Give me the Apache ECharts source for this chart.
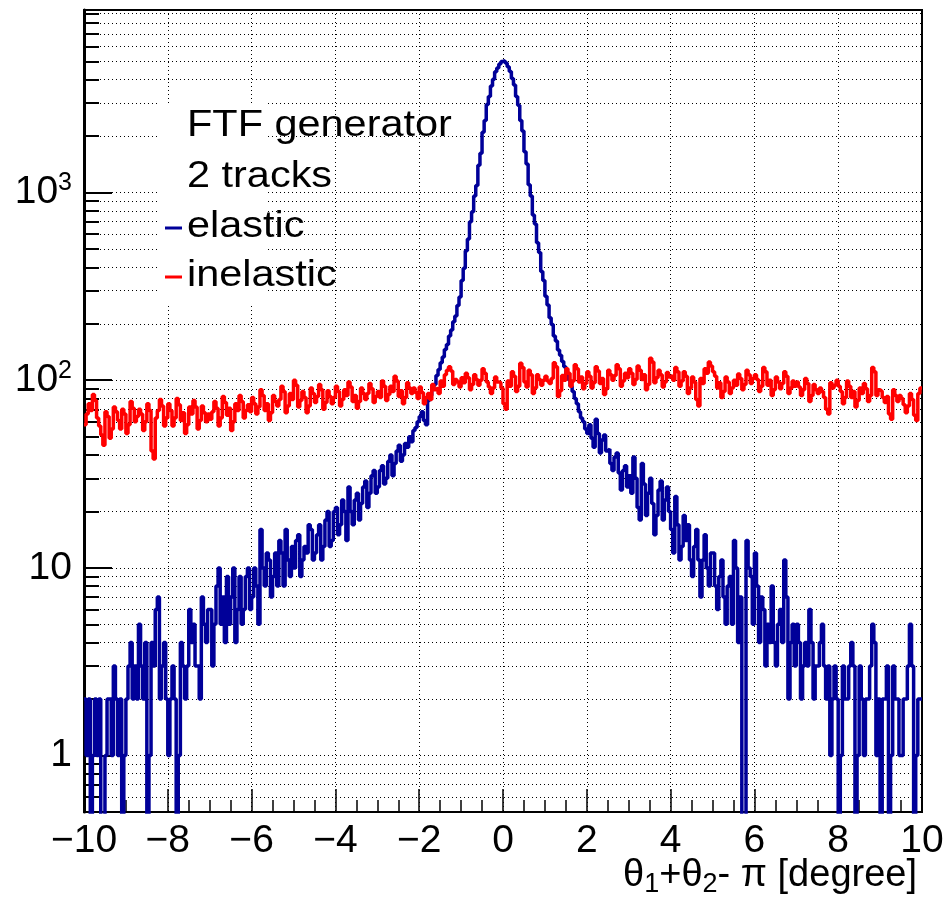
<!DOCTYPE html>
<html><head><meta charset="utf-8">
<script src="https://cdn.jsdelivr.net/npm/echarts@6/dist/echarts.min.js"></script>
<style>html,body{margin:0;padding:0;background:#fff}#c{width:948px;height:908px}</style>
</head><body><div id="c"></div>
<script>
// ---- data (histograms, 400 bins of 0.05 degree from -10 to 10) ----
const xMin = -10, xMax = 10, binWidth = 0.05;
const xTickLabels = [-10, -8, -6, -4, -2, 0, 2, 4, 6, 8, 10];
const yMajorTicks = [1, 10, 100, 1000];
const yMinorTicks = [0.6, 0.7, 0.8, 0.9, 2, 3, 4, 5, 6, 7, 8, 9, 20, 30, 40, 50, 60, 70, 80, 90,
                     200, 300, 400, 500, 600, 700, 800, 900, 2000, 3000, 4000, 5000, 6000, 7000, 8000, 9000];
const yMinValue = 0.5, yMaxValue = 9400;

const elastic = [
  // -10 .. -9
  2, 1, 2, 0, 1, 2, 1, 2, 0, 0, 1, 2, 2, 1, 3, 2, 1, 2, 0, 1,
  // -9 .. -8
  2, 3, 4, 2, 3, 2, 5, 3, 2, 4, 0, 1, 4, 3, 6, 7, 2, 3, 4, 2,
  // -8 .. -7
  1, 2, 3, 2, 0, 1, 4, 3, 2, 3, 6, 4, 5, 3, 3, 2, 7, 5, 4, 6,
  // -7 .. -6
  6, 3, 5, 8, 10, 5, 7, 4, 9, 5, 7, 10, 4, 6, 9, 5, 6, 9, 10, 6,
  // -6 .. -5
  7, 10, 8, 5, 16, 10, 8, 12, 11, 7, 9, 12, 8, 14, 12, 8, 16, 11, 9, 13,
  // -5 .. -4
  10, 14, 15, 9, 11, 13, 12, 17, 16, 11, 12, 15, 17, 11, 13, 18, 20, 13, 14, 20,
  // -4 .. -3
  21, 15, 17, 23, 20, 14, 27, 20, 17, 23, 25, 18, 22, 27, 29, 21, 25, 31, 33, 25,
  // -3 .. -2
  27, 33, 35, 28, 30, 37, 40, 31, 36, 42, 45, 37, 40, 46, 44, 50, 47, 54, 56, 60,
  // -2 .. -1
  64, 68, 61, 58, 78, 83, 90, 95, 106, 114, 124, 133, 146, 155, 172, 185, 205, 220, 250, 278,
  // -1 .. 0
  340, 395, 490, 565, 700, 790, 960, 1090, 1400, 1620, 2100, 2420, 2950, 3250, 3700, 4020, 4400, 4620, 4850, 5000,
  // 0 .. 1
  5050, 4900, 4680, 4420, 4050, 3750, 3250, 2920, 2420, 2130, 1650, 1420, 1100, 960, 760, 680, 540, 480, 380, 340,
  // 1 .. 2
  280, 252, 215, 198, 172, 162, 145, 136, 126, 118, 108, 101, 93, 87, 80, 75, 68, 63, 60, 55,
  // 2 .. 3
  52, 58, 49, 44, 62, 52, 41, 48, 51, 42, 43, 36, 33, 39, 41, 32, 26, 33, 35, 27,
  // 3 .. 4
  31, 25, 39, 30, 21, 18, 36, 28, 19, 25, 30, 22, 15, 19, 26, 29, 18, 23, 27, 20,
  // 4 .. 5
  16, 12, 24, 17, 11, 13, 19, 14, 17, 11, 9, 13, 16, 11, 7, 11, 15, 10, 8, 12,
  // 5 .. 6
  12, 8, 6, 9, 11, 7, 5, 8, 9, 5, 14, 10, 4, 7, 0, 0, 14, 10, 9, 5,
  // 6 .. 7
  12, 8, 4, 7, 6, 3, 5, 4, 8, 4, 3, 5, 6, 4, 11, 7, 2, 4, 5, 3,
  // 7 .. 8
  5, 4, 2, 3, 4, 3, 6, 4, 2, 3, 3, 4, 5, 3, 2, 3, 1, 2, 3, 2,
  // 8 .. 9
  0, 1, 3, 2, 2, 3, 4, 3, 0, 1, 3, 2, 1, 2, 2, 3, 5, 4, 1, 2,
  // 9 .. 10
  0, 2, 2, 3, 0, 1, 3, 2, 2, 1, 1, 2, 2, 3, 5, 3, 0, 1, 2, 2
];

const inelastic = [
  // -10 .. -9
  58, 66, 75, 69, 84, 78, 63, 57, 51, 45, 68, 64, 49, 55, 72, 68, 61, 55, 70, 66,
  // -9 .. -8
  52, 58, 77, 71, 60, 64, 70, 66, 54, 60, 75, 69, 42, 38, 63, 69, 79, 73, 57, 63,
  // -8 .. -7
  75, 69, 57, 63, 80, 74, 61, 67, 52, 58, 72, 66, 78, 72, 55, 61, 73, 67, 60, 66,
  // -7 .. -6
  62, 68, 77, 71, 57, 63, 82, 76, 65, 71, 54, 60, 75, 69, 83, 77, 63, 69, 74, 68,
  // -6 .. -5
  81, 75, 66, 72, 89, 83, 69, 75, 61, 67, 83, 77, 73, 79, 93, 87, 67, 73, 85, 79,
  // -5 .. -4
  100, 94, 72, 78, 87, 81, 67, 73, 91, 85, 76, 82, 95, 89, 70, 76, 88, 82, 75, 81,
  // -4 .. -3
  93, 87, 73, 79, 89, 83, 98, 92, 77, 83, 71, 77, 91, 85, 79, 85, 96, 90, 76, 82,
  // -3 .. -2
  87, 81, 99, 93, 78, 84, 93, 87, 105, 99, 82, 88, 75, 81, 97, 91, 85, 91, 86, 80,
  // -2 .. -1
  92, 86, 75, 81, 85, 79, 95, 89, 91, 85, 99, 93, 107, 113, 118, 112, 95, 101, 98, 92,
  // -1 .. 0
  103, 97, 109, 103, 89, 95, 107, 101, 94, 100, 115, 109, 98, 92, 85, 91, 104, 98, 97, 91,
  // 0 .. 1
  75, 70, 99, 93, 111, 105, 87, 93, 123, 117, 98, 92, 113, 107, 85, 91, 107, 101, 94, 100,
  // 1 .. 2
  105, 99, 96, 102, 124, 118, 82, 88, 106, 100, 115, 109, 93, 99, 121, 115, 98, 104, 90, 96,
  // 2 .. 3
  111, 105, 91, 97, 118, 112, 96, 102, 84, 90, 113, 107, 100, 106, 121, 115, 93, 99, 109, 103,
  // 3 .. 4
  115, 109, 95, 101, 119, 113, 101, 107, 89, 95, 131, 125, 97, 103, 113, 107, 92, 98, 110, 104,
  // 4 .. 5
  106, 100, 117, 111, 93, 99, 111, 105, 85, 91, 104, 98, 79, 73, 102, 96, 115, 109, 125, 119,
  // 5 .. 6
  111, 105, 91, 97, 81, 87, 104, 98, 85, 91, 100, 94, 108, 102, 89, 95, 113, 107, 96, 102,
  // 6 .. 7
  107, 101, 87, 93, 117, 111, 94, 100, 83, 89, 104, 98, 90, 96, 111, 105, 85, 91, 99, 93,
  // 7 .. 8
  98, 92, 83, 89, 102, 96, 77, 83, 95, 89, 85, 91, 87, 81, 70, 66, 97, 91, 94, 100,
  // 8 .. 9
  93, 87, 75, 81, 99, 93, 81, 87, 72, 78, 91, 85, 96, 90, 77, 83, 117, 111, 83, 89,
  // 9 .. 10
  87, 81, 76, 82, 66, 62, 89, 83, 77, 83, 80, 74, 67, 73, 85, 79, 65, 61, 85, 91
];

const legendLines = ['FTF generator', '2 tracks', 'elastic', 'inelastic'];

// ---- helpers ----
const lg = v => (v > 0 ? Math.log10(v) : -3);
function stepData(arr) {
  const d = arr.map((v, i) => [xMin + i * binWidth, lg(v)]);
  d.push([xMax, lg(arr[arr.length - 1])]);
  return d;
}
const FONT = '"Liberation Sans", Arial, Helvetica, sans-serif';
const BLUE = '#000099', RED = '#ff0000';
const dotted = { color: '#000', width: 1, type: [1, 3] };

const chart = echarts.init(document.getElementById('c'), null, { renderer: 'canvas' });
const yMin = Math.log10(yMinValue), yMax = Math.log10(yMaxValue);

chart.setOption({
  animation: false,
  backgroundColor: '#fff',
  grid: { left: 84, right: 26, top: 10, bottom: 96, show: true, borderColor: '#000', borderWidth: 2, backgroundColor: 'transparent' },
  xAxis: {
    type: 'value', min: xMin, max: xMax, interval: 2,
    axisLine: { show: true, onZero: false, lineStyle: { color: '#000', width: 2 } },
    axisTick: { show: true, inside: true, length: 23, lineStyle: { color: '#000', width: 1.5 } },
    minorTick: { show: true, splitNumber: 4, length: 12, lineStyle: { color: '#000', width: 1.5 } },
    splitLine: { show: true, lineStyle: dotted },
    axisLabel: {
      fontFamily: FONT, fontSize: 39, color: '#000', margin: 10,
      formatter: v => (xTickLabels.indexOf(v) >= 0 ? String(v).replace('-', '\u2212') : '')
    }
  },
  yAxis: [
    {
      type: 'value', min: yMin, max: yMax, position: 'left',
      axisLine: { show: true, onZero: false, lineStyle: { color: '#000', width: 3 } },
      axisTick: { show: true, inside: true, length: 28, customValues: yMajorTicks.map(Math.log10), lineStyle: { color: '#000', width: 2 } },
      splitLine: { show: false },
      axisLabel: {
        customValues: yMajorTicks.map(Math.log10),
        fontFamily: FONT, fontSize: 39, color: '#000', margin: 12, lineHeight: 44,
        formatter: v => {
          const k = Math.round(v);
          if (k === 0) return '1';
          if (k === 1) return '10';
          return '10{sup|' + k + '}';
        },
        rich: { sup: { fontFamily: FONT, fontSize: 25, color: '#000', verticalAlign: 'top', lineHeight: 25 } }
      }
    },
    {
      type: 'value', min: yMin, max: yMax, position: 'left',
      axisLine: { show: false, onZero: false },
      axisLabel: { show: false },
      axisTick: { show: true, inside: true, length: 15, customValues: yMajorTicks.concat(yMinorTicks).map(Math.log10), lineStyle: { color: '#000', width: 2 } },
      splitLine: { show: true, lineStyle: dotted }
    }
  ],
  graphic: [
    { type: 'rect', shape: { x: 160, y: 103, width: 107, height: 202 }, style: { fill: '#fff' }, z: 1, silent: true },
    { type: 'text', x: 187, y: 126, scaleX: 1.12, z: 10, style: { text: legendLines[0], fontFamily: FONT, fontSize: 37, fill: '#000', align: 'left', verticalAlign: 'middle' } },
    { type: 'text', x: 187, y: 177, scaleX: 1.12, z: 10, style: { text: legendLines[1], fontFamily: FONT, fontSize: 37, fill: '#000', align: 'left', verticalAlign: 'middle' } },
    { type: 'line', shape: { x1: 165, y1: 228, x2: 182, y2: 228 }, style: { stroke: BLUE, lineWidth: 3 }, z: 10 },
    { type: 'text', x: 187, y: 227, scaleX: 1.12, z: 10, style: { text: legendLines[2], fontFamily: FONT, fontSize: 37, fill: '#000', align: 'left', verticalAlign: 'middle' } },
    { type: 'line', shape: { x1: 165, y1: 277, x2: 182, y2: 277 }, style: { stroke: RED, lineWidth: 3 }, z: 10 },
    { type: 'text', x: 187, y: 276, scaleX: 1.12, z: 10, style: { text: legendLines[3], fontFamily: FONT, fontSize: 37, fill: '#000', align: 'left', verticalAlign: 'middle' } },
    { type: 'text', x: 917, y: 876, z: 10, style: {
        text: '{t|θ}{s|1}{t|+θ}{s|2}{t|- π [degree]}', align: 'right', verticalAlign: 'middle', fill: '#000',
        fontFamily: FONT, fontSize: 38,
        rich: {
          t: { fontFamily: FONT, fontSize: 38, lineHeight: 44, fill: '#000' },
          s: { fontFamily: FONT, fontSize: 27, lineHeight: 27, verticalAlign: 'bottom', fill: '#000' }
        }
    } }
  ],
  series: [
    {
      name: legendLines[2], type: 'line', step: 'end', data: stepData(elastic),
      xAxisIndex: 0, yAxisIndex: 0, showSymbol: false, symbol: 'none', clip: true,
      lineStyle: { color: BLUE, width: 3.5 }, z: 3
    },
    {
      name: legendLines[3], type: 'line', step: 'end', data: stepData(inelastic),
      xAxisIndex: 0, yAxisIndex: 0, showSymbol: false, symbol: 'none', clip: true,
      lineStyle: { color: RED, width: 3.5 }, z: 4
    }
  ]
});
</script>
</body></html>
